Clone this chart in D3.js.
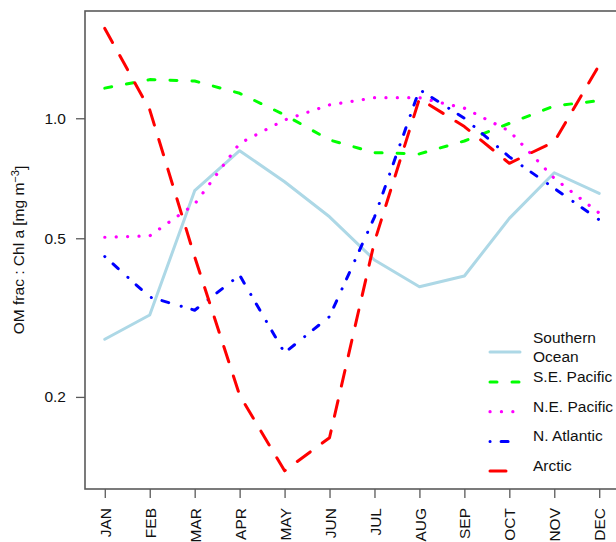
<!DOCTYPE html>
<html>
<head>
<meta charset="utf-8">
<script src="https://cdn.jsdelivr.net/npm/d3@7"></script>
<style>
  body { margin: 0; background: #fff; }
  svg { display: block; font-family: "Liberation Sans", Arial, Helvetica, sans-serif; }
</style>
</head>
<body>
<svg id="chart" width="616" height="542"></svg>
<script>
const months = ["JAN", "FEB", "MAR", "APR", "MAY", "JUN", "JUL", "AUG", "SEP", "OCT", "NOV", "DEC"];
const yTicks = [0.2, 0.5, 1.0];

// values (OM frac : Chl a)
const southernOcean = [0.279, 0.321, 0.658, 0.829, 0.693, 0.566, 0.441, 0.378, 0.402, 0.561, 0.730, 0.648];
const sePacific     = [1.19, 1.25, 1.24, 1.155, 1.02, 0.882, 0.82, 0.814, 0.877, 0.971, 1.074, 1.107];
const nePacific     = [0.503, 0.507, 0.609, 0.865, 0.99, 1.08, 1.126, 1.126, 1.06, 0.929, 0.707, 0.578];
const nAtlantic     = [0.45, 0.356, 0.330, 0.404, 0.258, 0.318, 0.565, 1.18, 1.0, 0.80, 0.667, 0.556];
const arctic        = [1.68, 1.05, 0.449, 0.202, 0.1305, 0.158, 0.49, 1.12, 0.953, 0.771, 0.873, 1.36];

const series = [
    { name: ["Southern", "Ocean"], values: southernOcean, color: "#ADD8E6", dash: null, width: 3 },
    { name: ["S.E. Pacific"], values: sePacific, color: "#00FF00", dash: "7,15", width: 3 },
    { name: ["N.E. Pacific"], values: nePacific, color: "#FF00FF", dash: "0.1,11.3", width: 3.2 },
    { name: ["N. Atlantic"], values: nAtlantic, color: "#0000FF", dash: "0.1,11,7,13", width: 3 },
    { name: ["Arctic"], values: arctic, color: "#FF0000", dash: "16,15", width: 3 }
];

const fontSize = "15.5px";

// setting
const plotLeft = 85, plotTop = 11, plotBottom = 489, plotRight = 619;

const svg = d3.select("#chart");

const x = d3.scaleLinear()
    .domain([-0.44, 11.44])
    .range([plotLeft, plotRight]);

const y = d3.scaleLog()
    .domain([0.1175, 1.858])
    .range([plotBottom, plotTop]);

// lines
const line = d3.line()
    .x((d, i) => x(i))
    .y(d => y(d));

svg.append("g")
    .selectAll("path")
    .data(series)
    .enter().append("path")
    .attr("d", d => line(d.values))
    .attr("fill", "none")
    .attr("stroke", d => d.color)
    .attr("stroke-width", d => d.width)
    .attr("stroke-linecap", "round")
    .attr("stroke-linejoin", "round")
    .attr("stroke-dasharray", d => d.dash);

// frame
svg.append("rect")
    .attr("x", plotLeft)
    .attr("y", plotTop)
    .attr("width", plotRight - plotLeft)
    .attr("height", plotBottom - plotTop)
    .attr("fill", "none")
    .attr("stroke", "#5a5a5a")
    .attr("stroke-width", 1.6);

// x axis
const xAxis = svg.append("g")
    .attr("transform", `translate(0, ${plotBottom})`)
    .call(d3.axisBottom(x).tickValues(d3.range(12)).tickSize(9).tickFormat(i => months[i]));
xAxis.select(".domain").remove();
xAxis.selectAll(".tick line").attr("stroke", "#5a5a5a").attr("stroke-width", 1.3);
xAxis.selectAll(".tick text")
    .attr("transform", "rotate(-90)")
    .attr("x", -19)
    .attr("y", 0)
    .attr("dy", "0.36em")
    .style("text-anchor", "end")
    .style("font-size", fontSize)
    .style("font-family", "inherit")
    .attr("fill", "#111");

// y axis
const yAxis = svg.append("g")
    .attr("transform", `translate(${plotLeft}, 0)`)
    .call(d3.axisLeft(y).tickValues(yTicks).tickSize(9).tickFormat(d3.format(".1f")));
yAxis.select(".domain").remove();
yAxis.selectAll(".tick line").attr("stroke", "#5a5a5a").attr("stroke-width", 1.3);
yAxis.selectAll(".tick text")
    .attr("x", -19)
    .style("font-size", fontSize)
    .style("font-family", "inherit")
    .attr("fill", "#111");

// y label
const yLabel = svg.append("text")
    .attr("transform", "translate(24, 250) rotate(-90)")
    .attr("text-anchor", "middle")
    .style("font-size", fontSize)
    .attr("fill", "#111");
yLabel.append("tspan").text("OM frac : Chl a [mg m");
yLabel.append("tspan").attr("dy", "-0.45em").style("font-size", "11px").text("\u22123");
yLabel.append("tspan").attr("dy", "0.45em").text("]");

// legend
const legend = svg.append("g")
    .attr("transform", "translate(490, 352)");

const items = legend.selectAll(".item")
    .data(series)
    .enter().append("g")
    .attr("class", "item")
    .attr("transform", (d, i) => `translate(0, ${i === 0 ? 0 : 30 + (i - 1) * 29.7})`);

items.append("line")
    .attr("x1", 0)
    .attr("x2", 30)
    .attr("stroke", d => d.color)
    .attr("stroke-width", d => d.width)
    .attr("stroke-linecap", "round")
    .attr("stroke-dasharray", d => d.dash);

items.append("text")
    .attr("x", 43)
    .attr("y", (d) => d.name.length > 1 ? -9.5 : 0)
    .attr("dy", "0.36em")
    .style("font-size", fontSize)
    .attr("fill", "#111")
    .selectAll("tspan")
    .data(d => d.name)
    .enter().append("tspan")
    .attr("x", 43)
    .attr("dy", (d, i) => i === 0 ? 0 : "1.25em")
    .text(d => d);
</script>
</body>
</html>
